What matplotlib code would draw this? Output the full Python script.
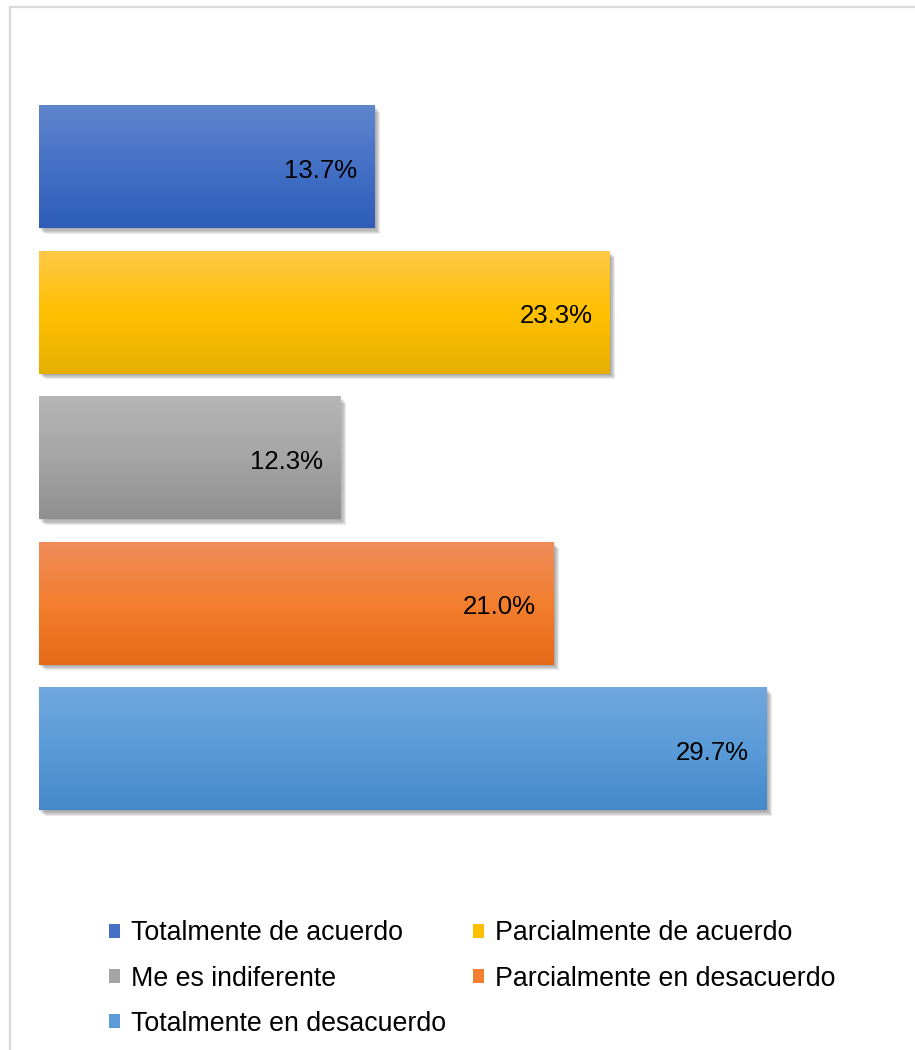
import numpy as np
import matplotlib.pyplot as plt
from matplotlib.patches import Patch, Rectangle
from matplotlib.colors import LinearSegmentedColormap
import matplotlib.patheffects as pe

plt.rcParams['font.family'] = ['Liberation Sans', 'DejaVu Sans']

# datos
categorias = ['Totalmente de acuerdo', 'Parcialmente de acuerdo', 'Me es indiferente',
              'Parcialmente en desacuerdo', 'Totalmente en desacuerdo']
valores = [13.7, 23.3, 12.3, 21.0, 29.7]
etiquetas = ['13.7%', '23.3%', '12.3%', '21.0%', '29.7%']

# colores degradados (arriba, medio, abajo)
degradados = [
    ['#5F85CD', '#4471C6', '#2E5DB8'],
    ['#FFC847', '#FFC000', '#E6AF00'],
    ['#B5B5B5', '#A5A5A5', '#8F8F8F'],
    ['#F08C5B', '#F37E2E', '#E46A18'],
    ['#70A7DD', '#5A9BD8', '#4589C9'],
]

fig = plt.figure(figsize=(9.15, 10.5), dpi=100)
ax = fig.add_axes([0.0426, 0.2171, 0.937, 0.6929])

alto = 0.84
pos = np.arange(len(valores))
barras = ax.barh(pos, valores, height=alto, color=[d[1] for d in degradados],
                 zorder=2)
# sombra suave
sombra = [pe.SimplePatchShadow(offset=(o, -o), shadow_rgbFace='#555555', alpha=0.12)
          for o in (0.8, 1.6, 2.4, 3.2, 4.0)]
for b in barras:
    b.set_path_effects(sombra + [pe.Normal()])

grad = np.linspace(0, 1, 256).reshape(-1, 1)
for i, v in enumerate(valores):
    cmap = LinearSegmentedColormap.from_list('g%d' % i, degradados[i])
    ax.imshow(grad, cmap=cmap, aspect='auto', origin='upper', zorder=3,
              extent=(0, v, i + alto / 2, i - alto / 2))
    ax.annotate(etiquetas[i], xy=(v, i), xytext=(-12.5, -2.5), textcoords='offset points',
                ha='right', va='center', fontsize=18.5, color='black', zorder=4)

ax.set_xlim(0, 35)
ax.set_ylim(len(valores) - 0.5, -0.5)
ax.axis('off')

# leyenda en filas
orden = [0, 2, 4, 1, 3]
handles = [Patch(facecolor=degradados[i][1], edgecolor='none') for i in orden]
fig.legend(handles, [categorias[i] for i in orden], ncol=2, loc='center',
           bbox_to_anchor=(0.516, 0.068), frameon=False, fontsize=19.3,
           handlelength=0.42, handleheight=0.42, handletextpad=0.4,
           columnspacing=1.0, labelspacing=0.72)

# borde del gráfico
fig.add_artist(Rectangle((0.0104, -0.1), 1.2, 1.0929, transform=fig.transFigure,
                         fill=False, edgecolor='#D9D9D9', linewidth=1.6))

plt.savefig('out.png', dpi=100)
